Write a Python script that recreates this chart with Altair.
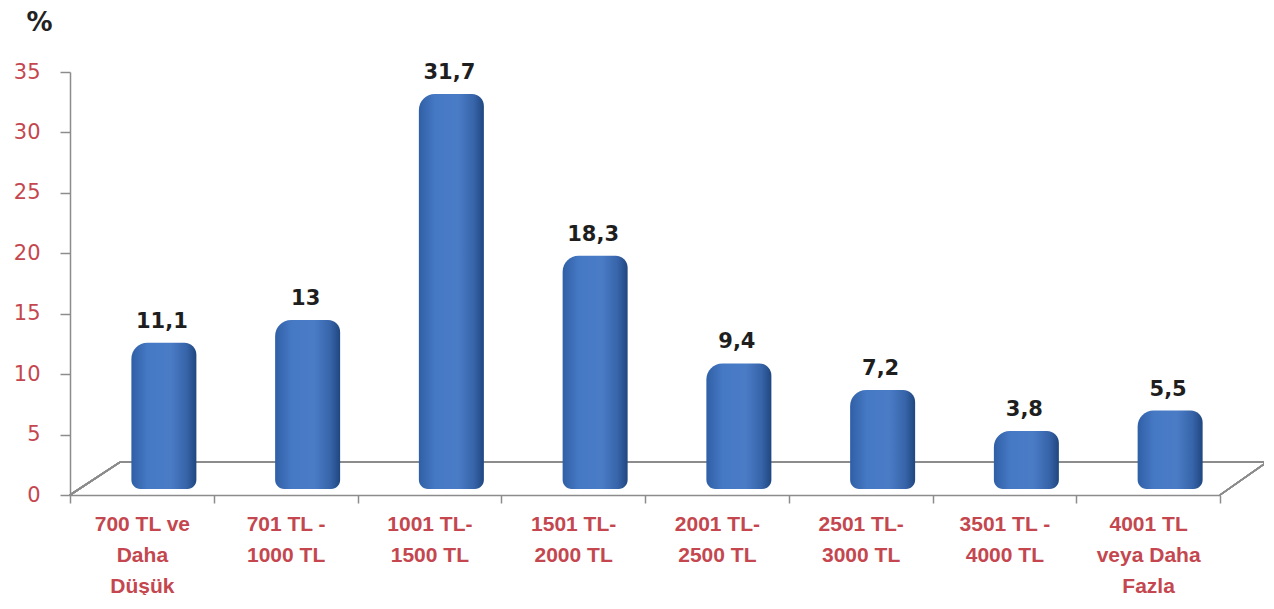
import altair as alt
import pandas as pd

categories = [
    "700 TL ve\nDaha\nDüşük",
    "701 TL -\n1000 TL",
    "1001 TL-\n1500 TL",
    "1501 TL-\n2000 TL",
    "2001 TL-\n2500 TL",
    "2501 TL-\n3000 TL",
    "3501 TL -\n4000 TL",
    "4001 TL\nveya Daha\nFazla",
]
values = [11.1, 13, 31.7, 18.3, 9.4, 7.2, 3.8, 5.5]
value_labels = ["11,1", "13", "31,7", "18,3", "9,4", "7,2", "3,8", "5,5"]
y_ticks = [0, 5, 10, 15, 20, 25, 30, 35]

df = pd.DataFrame({"cat": categories, "val": values, "lab": value_labels})

RED = "#c4474f"
GRAY = "#8c8c8c"

xenc = alt.X(
    "cat:N",
    sort=categories,
    scale=alt.Scale(paddingInner=0, paddingOuter=0),
    axis=alt.Axis(
        title=None,
        labelAngle=0,
        labelExpr="split(datum.label, '\\n')",
        labelFont="Liberation Sans",
        labelFontWeight="bold",
        labelFontSize=21,
        labelColor=RED,
        labelLineHeight=31,
        labelPadding=10,
        labelBaseline="top",
        tickBand="extent",
        tickSize=8,
        tickColor=GRAY,
        tickWidth=1.5,
        domainColor=GRAY,
        domainWidth=1.5,
        grid=False,
    ),
)

yscale = alt.Scale(domain=[0, 35], nice=False)
yenc = alt.Y(
    "val:Q",
    scale=yscale,
    axis=alt.Axis(
        title="%",
        titleAngle=0,
        titleX=-31,
        titleY=-42,
        titleAlign="center",
        titleBaseline="alphabetic",
        titleFont="DejaVu Sans",
        titleFontSize=26,
        titleFontWeight="bold",
        titleColor="#222222",
        values=y_ticks,
        labelFont="DejaVu Sans",
        labelFontSize=21,
        labelColor=RED,
        labelPadding=20,
        tickSize=10,
        tickColor=GRAY,
        tickWidth=1.5,
        domainColor=GRAY,
        domainWidth=1.5,
        grid=False,
    ),
)

grad = alt.Gradient(
    gradient="linear",
    x1=0, x2=1, y1=0, y2=0,
    stops=[
        alt.GradientStop(offset=0, color="#2f5fa6"),
        alt.GradientStop(offset=0.25, color="#4679c4"),
        alt.GradientStop(offset=0.6, color="#4a7cc6"),
        alt.GradientStop(offset=0.85, color="#3764a9"),
        alt.GradientStop(offset=1, color="#1f467f"),
    ],
)

base = alt.Chart(df)

# floor of the pseudo-3D chart (decoration)
floor_back = base.mark_rule(color=GRAY, strokeWidth=1.5).encode(
    x=alt.value(50), x2=alt.value(1197), y=alt.datum(2.73, scale=yscale)
)
floor_left = base.mark_rule(color=GRAY, strokeWidth=1.5).encode(
    x=alt.value(0), x2=alt.value(50),
    y=alt.datum(0, scale=yscale), y2=alt.datum(2.73)
)
floor_right = base.mark_rule(color=GRAY, strokeWidth=1.5).encode(
    x=alt.value(1150), x2=alt.value(1197),
    y=alt.datum(0, scale=yscale), y2=alt.datum(2.73)
)

bars = base.mark_bar(
    size=65,
    xOffset=22,
    yOffset=-18,
    y2Offset=-6,
    color=grad,
    cornerRadiusTopLeft=16,
    cornerRadiusTopRight=12,
    cornerRadiusBottomLeft=9,
    cornerRadiusBottomRight=9,
).encode(x=xenc, y=yenc, y2=alt.datum(0))

labels = base.mark_text(
    font="DejaVu Sans",
    fontSize=21,
    fontWeight="bold",
    color="#1e1e1e",
    xOffset=20,
    dy=-33,
    baseline="alphabetic",
).encode(x=alt.X("cat:N", sort=categories), y=alt.Y("val:Q", scale=yscale), text="lab:N")

chart = (
    alt.layer(floor_back, floor_left, floor_right, bars, labels)
    .properties(
        width=1150,
        height=423,
        background="white",
        autosize=alt.AutoSizeParams(type="none"),
        padding={"left": 62, "top": 64, "right": 44, "bottom": 100},
    )
    .configure_view(stroke=None)
)

chart.save("out.html", embed_options={"renderer": "svg", "actions": False})
